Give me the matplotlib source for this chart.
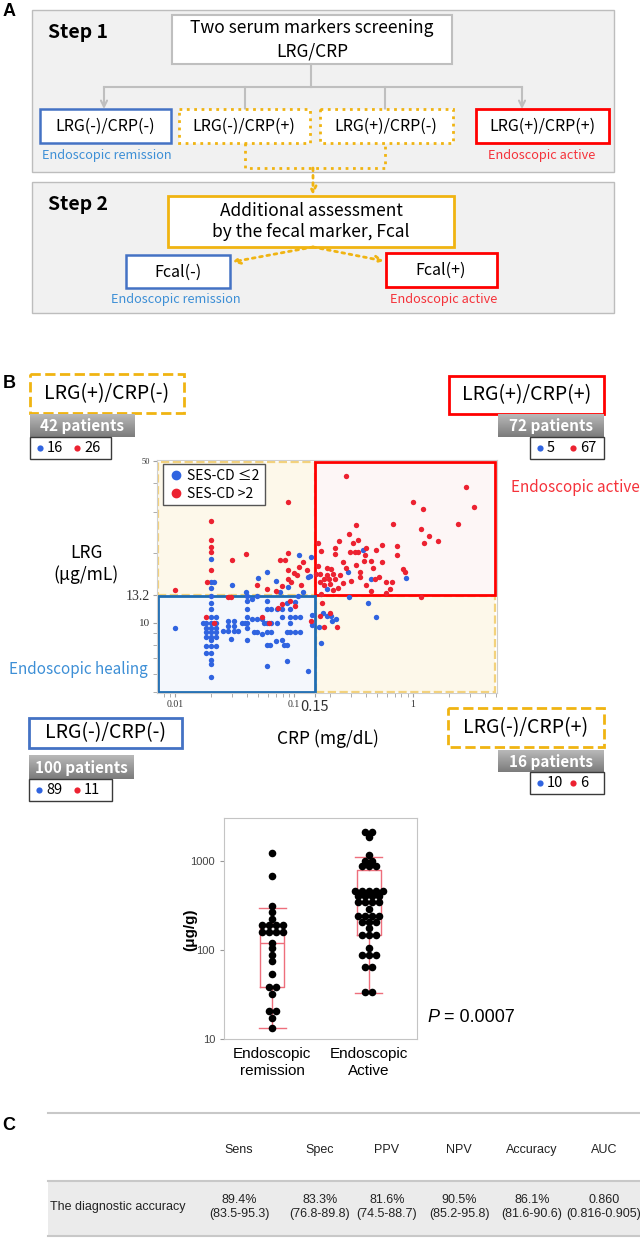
import numpy as np
import matplotlib.pyplot as plt
from matplotlib.patches import Rectangle
from matplotlib.colors import LinearSegmentedColormap
from matplotlib.ticker import NullFormatter, NullLocator
from matplotlib.lines import Line2D

# ---- data -------------------------------------------------------------
# panel B scatter: CRP (mg/dL) vs LRG (ug/mL)
blue_crp = [0.010,
            0.0201, 0.0201, 0.0201, 0.0201, 0.022, 0.0172, 0.0182, 0.0201, 0.0222,
            0.0182, 0.0201, 0.022, 0.0182, 0.0201, 0.022, 0.0182, 0.0201, 0.022,
            0.0201, 0.0182, 0.0201, 0.022, 0.0182, 0.0201, 0.0201, 0.0201, 0.0201,
            0.0253, 0.0281, 0.0311, 0.0341, 0.0281, 0.0311, 0.0281, 0.0311, 0.0296,
            0.0364, 0.0385, 0.0401, 0.0401, 0.0401, 0.0401, 0.0401, 0.0401, 0.0401,
            0.0441, 0.0485, 0.0533, 0.0463, 0.0485, 0.0441, 0.0485, 0.0533,
            0.056, 0.0587, 0.0645, 0.0587, 0.0645, 0.0587, 0.0587, 0.0645, 0.0587, 0.063, 0.0587,
            0.0713, 0.0713, 0.070, 0.0785, 0.082, 0.0868, 0.0785, 0.0785, 0.0868, 0.0868, 0.0868,
            0.0925, 0.0925, 0.0925, 0.102, 0.112, 0.102, 0.112, 0.0925, 0.102, 0.108,
            0.131, 0.141, 0.141,
            # LRG(+)/CRP(-)
            0.0201, 0.0201, 0.0211, 0.0201, 0.030, 0.0395, 0.0499, 0.0587, 0.0699, 0.0764,
            0.1103, 0.139, 0.130, 0.135, 0.0894, 0.120,
            # LRG(+)/CRP(+)
            0.382, 0.282, 0.444, 0.870, 0.190,
            # LRG(-)/CRP(+)
            0.42, 0.488, 0.29, 0.21, 0.19, 0.204, 0.17, 0.163, 0.175, 0.225]
blue_lrg = [9.5,
            13.0, 12.1, 11.4, 10.6, 10.6, 10.0, 10.0, 10.0, 10.0,
            9.5, 9.5, 9.5, 9.1, 9.1, 9.1, 8.7, 8.7, 8.7,
            8.4, 7.9, 7.9, 7.9, 7.4, 7.4, 6.9, 6.6, 5.8,
            9.2, 9.2, 9.2, 9.2, 10.2, 10.2, 9.7, 9.7, 8.5,
            10.0, 10.0, 10.0, 10.6, 11.4, 12.4, 13.0, 9.5, 8.4,
            10.4, 10.4, 10.4, 9.1, 9.1, 12.6, 13.0, 8.9,
            10.0, 10.0, 10.0, 11.4, 11.4, 12.4, 9.1, 9.1, 8.0, 8.0, 6.5,
            11.4, 10.0, 8.3, 8.4, 8.0, 8.0, 10.6, 11.4, 12.2, 9.1, 6.8,
            10.6, 10.0, 9.1, 10.6, 10.6, 9.1, 9.1, 11.5, 12.3, 13.0,
            6.2, 10.8, 9.8,
            18.9, 15.0, 15.0, 14.1, 14.6, 13.6, 15.6, 16.6, 15.2, 13.6,
            19.6, 19.2, 15.7, 15.9, 14.2, 13.5,
            20.6, 16.6, 15.4, 15.6, 14.0,
            12.1, 10.6, 12.9, 10.2, 10.7, 10.7, 8.2, 9.6, 11.0, 10.4]
red_crp = [0.0182, 0.0211, 0.0281, 0.0296, 0.0533, 0.062, 0.074, 0.0785, 0.0925, 0.102, 0.138,
           0.010, 0.0201, 0.0201, 0.0201, 0.0201, 0.0201, 0.0187, 0.030, 0.0395, 0.0894,
           0.0764, 0.0838, 0.0894, 0.0894, 0.120, 0.110, 0.099, 0.079, 0.049, 0.0894,
           0.105, 0.128, 0.0699, 0.0587, 0.095, 0.115,
           0.272, 2.81, 1.00, 1.21, 3.28, 0.332, 0.675, 2.39, 1.16, 0.292,
           1.37, 0.240, 0.345, 0.311, 1.24, 1.62, 0.159, 0.221, 0.547, 0.740,
           0.170, 0.221, 0.296, 0.327, 0.348, 0.402, 0.488, 0.740, 0.395, 0.259,
           0.332, 0.388, 0.441, 0.547, 0.272, 0.464, 0.190, 0.204, 0.516, 0.829,
           0.850, 0.355, 0.355, 0.480, 0.214, 0.166, 0.152, 0.177, 0.197, 0.221,
           0.259, 0.200, 0.180, 0.213, 0.232, 0.402, 0.441, 0.595, 0.660, 0.640,
           0.595, 0.170, 0.166, 0.188, 0.160, 0.245, 0.300,
           1.16, 0.23, 0.20, 0.164, 0.178, 0.172]
red_lrg = [10.6, 10.0, 12.9, 12.9, 10.6, 10.0, 11.6, 12.0, 12.4, 11.8, 10.2,
           13.9, 27.4, 22.8, 21.3, 20.3, 16.9, 15.0, 18.7, 19.9, 33.4,
           18.7, 18.7, 20.0, 16.9, 18.3, 17.4, 16.4, 14.4, 14.6, 15.5,
           16.0, 16.9, 13.7, 14.0, 15.0, 14.5,
           43.2, 38.7, 33.4, 30.9, 31.7, 26.4, 26.8, 26.8, 25.5, 24.2,
           23.8, 22.6, 22.8, 22.0, 22.0, 22.6, 22.2, 21.1, 21.7, 21.5,
           20.5, 19.9, 20.3, 20.3, 20.3, 21.1, 20.7, 19.7, 19.6, 18.3,
           17.8, 18.5, 18.4, 18.3, 17.2, 17.3, 17.2, 17.1, 15.8, 17.0,
           16.5, 16.6, 15.8, 15.4, 16.3, 16.3, 16.2, 15.5, 15.4, 15.4,
           14.9, 14.7, 14.6, 13.8, 14.1, 14.5, 13.7, 15.0, 15.0, 14.0,
           13.4, 13.3, 15.0, 16.0, 17.6, 16.0, 15.2,
           12.95, 9.6, 11.0, 10.7, 9.6, 12.2]

crp_cut = 0.15
lrg_cut = 13.2

region_names = ["LRG(+)/CRP(-)", "LRG(+)/CRP(+)", "LRG(-)/CRP(-)", "LRG(-)/CRP(+)"]
region_patients = [42, 72, 100, 16]
region_blue = [16, 5, 89, 10]
region_red = [26, 67, 11, 6]

# panel B box plot: Fcal (ug/g)
fcal_remission = [1238, 684, 312, 265, 225, 191, 191, 191, 191, 161, 161, 161, 161,
                  121, 104, 88, 75, 54, 38.7, 38.7, 31.8, 20.6, 20.6, 17.4, 13.2]
fcal_active = [2134, 2134, 1840, 1167, 1000, 1000, 886, 886, 886,
               464, 464, 464, 464, 464, 400, 400, 400, 400, 343, 343, 343, 343,
               287, 241, 241, 241, 241, 208, 208, 208, 175, 148, 148, 148,
               106, 88, 88, 88, 64, 64, 33.5, 33.5]
box_groups = ["Endoscopic\nremission", "Endoscopic\nActive"]
box_q1 = [38, 148]
box_med = [121, 335]
box_q3 = [187, 785]
box_lo = [13.2, 33]
box_hi = [298, 1117]

# panel C table
tab_cols = ["Sens", "Spec", "PPV", "NPV", "Accuracy", "AUC"]
tab_vals = ["89.4%", "83.3%", "81.6%", "90.5%", "86.1%", "0.860"]
tab_ci = ["(83.5-95.3)", "(76.8-89.8)", "(74.5-88.7)", "(85.2-95.8)", "(81.6-90.6)", "(0.816-0.905)"]

# ---- style ------------------------------------------------------------
JP = ['Noto Sans CJK JP', 'DejaVu Sans']
AR = ['Liberation Sans', 'DejaVu Sans']
GOLD = '#f0b412'
BLUE = '#4472c4'
RED = '#ff0000'
BLUE_TXT = '#3d8fd6'
RED_TXT = '#f5323a'
BLUE_DOT = '#3064e0'
RED_DOT = '#ec2231'
GRID = '#bfbfbf'

fig = plt.figure(figsize=(6.4, 12.4), dpi=100)
bg = fig.add_axes([0, 0, 1, 1])
bg.axis('off')


def box(x0, y0, x1, y1, ec, lw=1.5, ls='-', fc='white', z=2):
    bg.add_patch(Rectangle((x0, y0), x1 - x0, y1 - y0, fc=fc, ec=ec, lw=lw, ls=ls, zorder=z))


def txt(x, y, s, size, color='black', ha='center', weight='normal', fam=JP, **kw):
    bg.text(x, y, s, fontsize=size, color=color, ha=ha, va='center',
            fontweight=weight, family=fam, zorder=5, **kw)


def arrow(x0, y0, x1, y1, color, ls='-', lw=1.5):
    bg.annotate('', xy=(x1, y1), xytext=(x0, y0),
                arrowprops=dict(arrowstyle='->', color=color, lw=lw, linestyle=ls,
                                shrinkA=0, shrinkB=0, mutation_scale=11))


# ---- panel A ----------------------------------------------------------
txt(9, 11, 'A', 13, weight='bold', fam=AR)
box(32, 10, 614, 172, '#bdbdbd', lw=1, fc='#f1f1f1', z=1)
box(32, 182, 614, 313, '#bdbdbd', lw=1, fc='#f1f1f1', z=1)
txt(48, 33, 'Step 1', 14, ha='left', weight='bold')
txt(48, 204, 'Step 2', 14, ha='left', weight='bold')

box(172, 15, 452, 64, GRID, lw=1.5)
txt(312, 28, 'Two serum markers screening', 12.5)
txt(312, 51, 'LRG/CRP', 12.5)
bg.plot([311, 311], [64, 87], color=GRID, lw=1.5)
bg.plot([104, 522], [87, 87], color=GRID, lw=1.5)
bg.plot([245, 245], [87, 109], color=GRID, lw=1.5)
bg.plot([385, 385], [87, 109], color=GRID, lw=1.5)
arrow(104, 87, 104, 109, GRID)
arrow(522, 87, 522, 109, GRID)

box(40, 109, 171, 143, BLUE, lw=1.8)
box(179, 109, 310, 143, GOLD, lw=2, ls=':')
box(320, 109, 453, 143, GOLD, lw=2, ls=':')
box(476, 109, 609, 143, RED, lw=2)
for cx, name in zip([105, 244, 386, 542], ["LRG(-)/CRP(-)", "LRG(-)/CRP(+)", "LRG(+)/CRP(-)", "LRG(+)/CRP(+)"]):
    txt(cx, 126, name, 11.5)
txt(107, 156, 'Endoscopic remission', 9.2, color=BLUE_TXT)
txt(542, 156, 'Endoscopic active', 9.2, color=RED_TXT)

bg.plot([245, 245, 385, 385], [143, 168, 168, 143], color=GOLD, lw=2, ls=':')
arrow(313, 168, 313, 195, GOLD, ls=':', lw=2)

box(168, 196, 454, 247, GOLD, lw=2)
txt(311, 211, 'Additional assessment', 12.5)
txt(311, 232, 'by the fecal marker, Fcal', 12.5)
arrow(313, 247, 232, 262, GOLD, ls=':', lw=2)
arrow(313, 247, 384, 261, GOLD, ls=':', lw=2)
box(126, 255, 230, 288, BLUE, lw=1.8)
box(386, 253, 497, 287, RED, lw=2)
txt(178, 272, 'Fcal(-)', 11.5)
txt(441, 270, 'Fcal(+)', 11.5)
txt(176, 300, 'Endoscopic remission', 9.2, color=BLUE_TXT)
txt(444, 300, 'Endoscopic active', 9.2, color=RED_TXT)

# ---- panel B labels ---------------------------------------------------
txt(9, 384, 'B', 13, weight='bold', fam=AR)
gray = LinearSegmentedColormap.from_list('g', ['#b8b8b8', '#7c7c7c'])
grad = np.linspace(0, 1, 30).reshape(-1, 1)

label_boxes = [(30, 374, 184, 413, GOLD, '--'), (449, 376, 604, 414, RED, '-'),
               (29, 718, 182, 748, BLUE, '-'), (448, 708, 604, 747, GOLD, '--')]
bar_boxes = [(30, 414, 135, 437), (498, 414, 604, 437), (29, 755, 134, 779), (498, 750, 604, 772)]
count_boxes = [(30, 437, 111, 459), (530, 437, 604, 459), (29, 779, 112, 801), (530, 772, 604, 794)]

for i in range(4):
    x0, y0, x1, y1, ec, ls = label_boxes[i]
    box(x0, y0, x1, y1, ec, lw=2, ls=ls)
    txt((x0 + x1) / 2, (y0 + y1) / 2, region_names[i], 14)
    bx0, by0, bx1, by1 = bar_boxes[i]
    bg.imshow(grad, cmap=gray, extent=(bx0, bx1, by1, by0), aspect='auto', zorder=2)
    txt((bx0 + bx1) / 2, (by0 + by1) / 2 + 1, f'{region_patients[i]} patients', 11,
        color='white', weight='bold')
    cx0, cy0, cx1, cy1 = count_boxes[i]
    box(cx0, cy0, cx1, cy1, '#3a3a3a', lw=1)
    ym = (cy0 + cy1) / 2
    w = cx1 - cx0
    bg.scatter([cx0 + 10], [ym], s=20, color=BLUE_DOT, zorder=4, lw=0)
    txt(cx0 + 17, ym, str(region_blue[i]), 10.5, ha='left')
    bg.scatter([cx0 + w * 0.58], [ym], s=20, color=RED_DOT, zorder=4, lw=0)
    txt(cx0 + w * 0.58 + 7, ym, str(region_red[i]), 10.5, ha='left')

txt(86, 553, 'LRG', 12.5)
txt(86, 575, '(μg/mL)', 12.5)
txt(328, 739, 'CRP (mg/dL)', 12.5)
txt(511, 488, 'Endoscopic active', 11, color=RED_TXT, ha='left')
txt(78, 669, 'Endoscopic healing', 11, color=BLUE_TXT)

# ---- panel B scatter --------------------------------------------------
ax = fig.add_axes([157 / 640, 1 - 693 / 1240, 340 / 640, 233 / 1240])
ax.set_xscale('log')
ax.set_yscale('log')
xmin, xmax = 0.00705, 5.08
ymin, ymax = 4.96, 50.5
ax.set_xlim(xmin, xmax)
ax.set_ylim(ymin, ymax)

ax.add_patch(Rectangle((xmin * 1.02, lrg_cut), crp_cut - xmin * 1.02, ymax * 0.985 - lrg_cut,
                       fc='#fdf8ea', ec='#f3d27c', lw=1.6, ls='--', zorder=1))
ax.add_patch(Rectangle((crp_cut * 1.02, ymin * 1.01), xmax * 0.97 - crp_cut * 1.02, lrg_cut * 0.985 - ymin * 1.01,
                       fc='#fdf8ea', ec='#f3d27c', lw=1.6, ls='--', zorder=1))
ax.add_patch(Rectangle((crp_cut, lrg_cut), xmax * 0.97 - crp_cut, ymax * 0.985 - lrg_cut,
                       fc='#fdf6f6', ec=RED, lw=2, zorder=1.5))
ax.add_patch(Rectangle((xmin * 1.02, ymin * 1.01), crp_cut - xmin * 1.02, lrg_cut * 0.985 - ymin * 1.01,
                       fc='#f4f7fc', ec='#1f6db3', lw=2, zorder=1.5))

ax.scatter(blue_crp, blue_lrg, s=15, color=BLUE_DOT, lw=0, zorder=3)
ax.scatter(red_crp, red_lrg, s=15, color=RED_DOT, lw=0, zorder=3)

for sp in ax.spines.values():
    sp.set_color('#cfcfcf')
ax.set_xticks([0.01, 0.1, crp_cut, 1])
ax.set_xticklabels(['0.01', '0.1', '0.15', '1'])
ax.set_yticks([10, lrg_cut, 50])
ax.set_yticklabels(['10', '13.2', '50'])
ax.xaxis.set_minor_formatter(NullFormatter())
ax.yaxis.set_minor_formatter(NullFormatter())
ax.tick_params(which='both', length=3, color='#a0a0a0', pad=2)
for lab, fs in zip(ax.get_xticklabels(), [7, 7, 10.5, 7]):
    lab.set_fontsize(fs)
    lab.set_family(['Liberation Serif'] if fs < 10 else JP)
    lab.set_color('#333333')
for lab, fs in zip(ax.get_yticklabels(), [8, 10, 6]):
    lab.set_fontsize(fs)
    lab.set_family(['Liberation Serif'])
    lab.set_color('#333333')

handles = [Line2D([], [], ls='', marker='o', ms=6, color=BLUE_DOT),
           Line2D([], [], ls='', marker='o', ms=6, color=RED_DOT)]
leg = ax.legend(handles, ['SES-CD ≤2', 'SES-CD >2'], loc='upper left',
                bbox_to_anchor=(0.018, 0.982), borderaxespad=0, fancybox=False,
                framealpha=1, edgecolor='#555555', handletextpad=0.2, handlelength=1.2,
                borderpad=0.35, labelspacing=0.25, prop={'family': JP, 'size': 10})
leg.get_frame().set_linewidth(1)
leg.set_zorder(6)

# ---- panel B box plot -------------------------------------------------
bx = fig.add_axes([224 / 640, 1 - 1039 / 1240, 193 / 640, 221 / 1240])
bx.set_yscale('log')
stats = [dict(med=box_med[i], q1=box_q1[i], q3=box_q3[i], whislo=box_lo[i], whishi=box_hi[i])
         for i in range(2)]
pink = '#ee6f7c'
bx.bxp(stats, positions=[1, 2], widths=0.25, capwidths=0.28, showfliers=False,
       boxprops=dict(color=pink, lw=1), whiskerprops=dict(color=pink, lw=1),
       capprops=dict(color=pink, lw=1), medianprops=dict(color=pink, lw=1))


def swarm(center, values, step=0.072):
    xs, ys = [], []
    for v in dict.fromkeys(values):
        n = values.count(v)
        for k in range(n):
            xs.append(center + (k - (n - 1) / 2) * step)
            ys.append(v)
    return xs, ys


for pos, vals in zip([1, 2], [fcal_remission, fcal_active]):
    sx, sy = swarm(pos, vals)
    bx.scatter(sx, sy, s=30, color='black', lw=0, zorder=3)

bx.set_xlim(0.5, 2.5)
bx.set_ylim(10, 3040)
bx.set_yticks([10, 100, 1000])
bx.set_yticklabels(['10', '100', '1000'])
bx.yaxis.set_minor_locator(NullLocator())
bx.set_xticks([1, 2])
bx.set_xticklabels(box_groups, family=AR, fontsize=11)
bx.tick_params(axis='x', length=0, pad=6)
bx.tick_params(axis='y', length=3, color='#999999', labelsize=8, labelcolor='#444444')
for lab in bx.get_yticklabels():
    lab.set_family(AR)
for sp in bx.spines.values():
    sp.set_color('#c4c4c4')

bg.text(190, 930, '(μg/g)', rotation=90, fontsize=11, fontweight='bold', family=AR,
        ha='center', va='center')
bg.text(427, 1018, 'P', fontsize=13, style='italic', family=AR, ha='left', va='center')
bg.text(444, 1018, '= 0.0007', fontsize=13, family=AR, ha='left', va='center')

# ---- panel C ----------------------------------------------------------
txt(9, 1126, 'C', 13, weight='bold', fam=AR)
bg.plot([48, 640], [1113, 1113], color='#c8c8c8', lw=1.5)
bg.add_patch(Rectangle((48, 1181), 592, 55, fc='#ebebeb', ec='none', zorder=1))
bg.plot([48, 640], [1181, 1181], color='#c8c8c8', lw=1.5)
bg.plot([48, 640], [1236, 1236], color='#c8c8c8', lw=1.5)
col_x = [239, 320, 387, 459, 532, 604]
for cx, h, v, ci in zip(col_x, tab_cols, tab_vals, tab_ci):
    txt(cx, 1150, h, 9, fam=AR, color='#222222')
    txt(cx, 1200, v, 9, fam=AR, color='#222222')
    txt(cx, 1214, ci, 9, fam=AR, color='#222222')
txt(50, 1207, 'The diagnostic accuracy', 9, ha='left', fam=AR, color='#222222')

bg.set_xlim(0, 640)
bg.set_ylim(1240, 0)

fig.savefig('out.png', dpi=100)
